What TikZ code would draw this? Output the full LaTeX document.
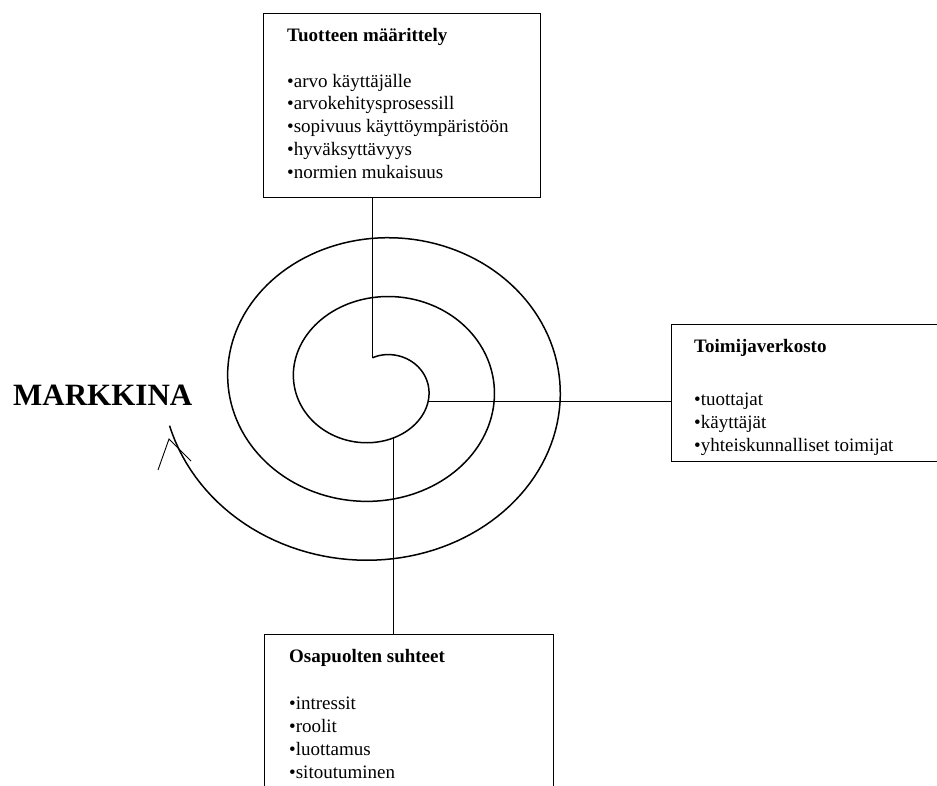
\documentclass[tikz,border=0pt]{standalone}
\usepackage{fontspec}
\setmainfont{Liberation Serif}
\begin{document}
\begin{tikzpicture}[x=1pt,y=-1pt,
  boxstyle/.style={draw, line width=1.2pt, rectangle, inner sep=0pt, anchor=north west},
  boxtext/.style={anchor=base west, align=left, inner sep=0pt, font=\fontsize{19}{22.7}\selectfont},
  conn/.style={line width=0.9pt},
  spiralline/.style={line width=1.5pt},
  tipline/.style={line width=0.9pt}
]
\useasboundingbox (0,0) rectangle (937,785);
\clip (0,0) rectangle (937,785);
% spiral
\def\sx#1{377.5+(34+66*(#1))*sin(360*(#1))}
\def\sy#1{384.25-(28.25+59*(#1))*cos(360*(#1))}
\draw[spiralline] plot[domain=-0.025:2.72, samples=400, variable=\t] ({\sx{\t}},{\sy{\t}});
\coordinate (sstart) at ({\sx{-0.025}},{\sy{-0.025}});
\coordinate (pR) at ({\sx{0.31}},{\sy{0.31}});
\coordinate (pB) at ({\sx{0.46}},{\sy{0.46}});
% boxes
\node[boxstyle, minimum width=277pt, minimum height=184pt] (topbox) at (263,13) {};
\node[boxstyle, minimum width=280pt, minimum height=137pt] (rightbox) at (671,324) {};
\node[boxstyle, minimum width=289pt, minimum height=180pt] (botbox) at (264,634) {};
% texts (base anchor = baseline of last line)
\node[boxtext] (toptext) at (287,178) {\textbf{Tuotteen määrittely}\\[22.7pt]
  •arvo käyttäjälle\\ •arvokehitysprosessill\\ •sopivuus käyttöympäristöön\\ •hyväksyttävyys\\ •normien mukaisuus};
\node[boxtext] (righttext) at (694,451) {\textbf{Toimijaverkosto}\\[30pt]
  •tuottajat\\ •käyttäjät\\ •yhteiskunnalliset toimijat};
\node[boxtext, font=\fontsize{19}{23}\selectfont] (bottext) at (289,778) {\textbf{Osapuolten suhteet}\\[23.5pt]
  •intressit\\ •roolit\\ •luottamus\\ •sitoutuminen};
\node[anchor=base west, inner sep=0pt, font=\fontsize{31}{36}\selectfont\bfseries] (markkina) at (13,405) {MARKKINA};
% connectors
\draw[conn] (topbox.south -| sstart) -- (sstart);
\draw[conn] (pR) -- (pR -| rightbox.west);
\draw[conn] (pB) -- (pB |- botbox.north);
% arrow tip
\coordinate (tipapex) at (169,439);
\coordinate (tipa) at (158,470);
\coordinate (tipb) at (191,461);
\draw[tipline] (tipa) -- (tipapex) -- (tipb);
\end{tikzpicture}
\end{document}
